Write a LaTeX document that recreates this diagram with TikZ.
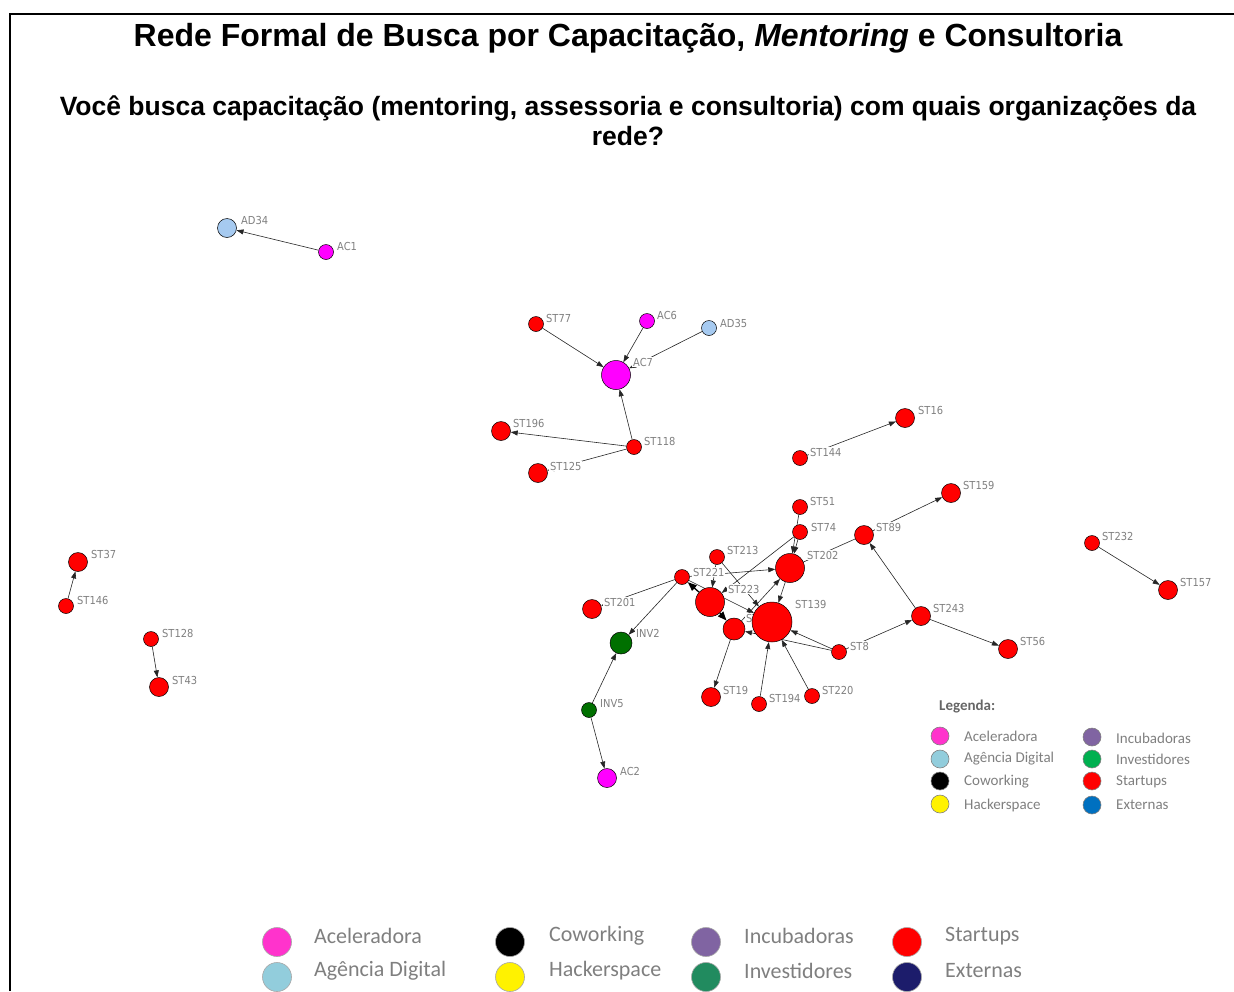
\documentclass[tikz,border=0pt]{standalone}
\usepackage{fontspec}
\setmainfont{Liberation Sans}
\newfontfamily\lblfont{DejaVu Sans Condensed}
\newfontfamily\legfont{Carlito}
\usetikzlibrary{arrows.meta}
\pgfdeclarelayer{edges}
\pgfdeclarelayer{labels}
\pgfsetlayers{edges,labels,main}
\definecolor{stred}{RGB}{255,0,0}
\definecolor{acmag}{RGB}{255,0,255}
\definecolor{adblue}{RGB}{166,202,240}
\definecolor{invgreen}{RGB}{0,112,0}
\definecolor{lblgray}{RGB}{128,128,128}
\definecolor{leggray}{RGB}{127,127,127}
\definecolor{legpink}{RGB}{255,51,204}
\definecolor{leglblue}{RGB}{146,205,220}
\definecolor{legpurple}{RGB}{128,100,162}
\definecolor{leggreen}{RGB}{0,176,80}
\definecolor{legblue}{RGB}{0,112,192}
\definecolor{legdgreen}{RGB}{33,139,95}
\definecolor{legnavy}{RGB}{28,28,107}
\tikzset{
  net/.style={circle, draw=black, line width=0.5pt, inner sep=0pt},
  s7/.style={net, minimum size=15pt},
  s9/.style={net, minimum size=19pt},
  s11/.style={net, minimum size=22pt},
  s14/.style={net, minimum size=29pt},
  s20/.style={net, minimum size=40pt},
  st/.style={fill=stred},
  ac/.style={fill=acmag},
  ad/.style={fill=adblue},
  inv/.style={fill=invgreen},
  lbl/.style={anchor=west, inner sep=1pt, fill=white, text=lblgray, font=\lblfont\fontsize{11}{12}\selectfont},
  ed/.style={draw=black!85, line width=0.6pt, -{Triangle[length=7pt,width=5pt]}},
  edthick/.style={draw=black, line width=1.3pt, -{Triangle[length=9pt,width=7pt]}},
  pl/.style={draw=black!85, line width=0.6pt},
  legdot/.style={circle, draw=gray, line width=0.6pt, inner sep=0pt, minimum size=18pt},
  legtxt/.style={anchor=west, inner sep=0pt, text=leggray, font=\legfont\fontsize{15}{17}\selectfont},
  bigdot/.style={circle, draw=gray!70, line width=0.6pt, inner sep=0pt, minimum size=29pt},
  bigtxt/.style={anchor=west, inner sep=0pt, text=leggray, font=\legfont\fontsize{22}{25}\selectfont},
}
\begin{document}
\begin{tikzpicture}[x=1pt,y=-1pt]
\useasboundingbox (0,0) rectangle (1234,991);

% frame
\draw[line width=2pt] (10,991) -- (10,14) -- (1234,14);

% headings
\node[anchor=base, inner sep=0pt, font=\bfseries\fontsize{32}{38}\selectfont] (title) at (628,46)
  {Rede Formal de Busca por Capacitação, \textit{Mentoring} e Consultoria};
\node[anchor=base, inner sep=0pt, font=\bfseries\fontsize{26.5}{30}\selectfont] (sub1) at (628,115)
  {Você busca capacitação (mentoring, assessoria e consultoria) com quais organizações da};
\node[anchor=base, inner sep=0pt, font=\bfseries\fontsize{26.5}{30}\selectfont] (sub2) at (628,145) {rede?};

% network nodes
\node[s9,ad]  (AD34)  at (227,228) {};
\node[s7,ac]  (AC1)   at (326,252) {};
\node[s7,st]  (ST77)  at (536,324) {};
\node[s7,ac]  (AC6)   at (647,321) {};
\node[s7,ad]  (AD35)  at (709,328) {};
\node[s14,ac] (AC7)   at (616,375) {};
\node[s9,st]  (ST196) at (501,431) {};
\node[s7,st]  (ST118) at (634,447) {};
\node[s9,st]  (ST125) at (538,473) {};
\node[s9,st]  (ST16)  at (905,418) {};
\node[s7,st]  (ST144) at (800,458) {};
\node[s9,st]  (ST159) at (951,493) {};
\node[s7,st]  (ST51)  at (800,507) {};
\node[s7,st]  (ST74)  at (800,532) {};
\node[s9,st]  (ST89)  at (864,535) {};
\node[s7,st]  (ST232) at (1092,543) {};
\node[s9,st]  (ST157) at (1168,590) {};
\node[s7,st]  (ST213) at (717,557) {};
\node[s14,st] (ST202) at (790,568) {};
\node[s7,st]  (ST221) at (682,577) {};
\node[s14,st] (ST223) at (710,602) {};
\node[s11,st] (STX)   at (734,629) {};
\node[s9,st]  (ST201) at (592,609) {};
\node[s20,st] (ST139) at (772,622) {};
\node[s9,st]  (ST243) at (921,616) {};
\node[s11,inv] (INV2) at (621,643) {};
\node[s7,st]  (ST8)   at (839,652) {};
\node[s9,st]  (ST56)  at (1008,649) {};
\node[s9,st]  (ST19)  at (711,697) {};
\node[s7,st]  (ST194) at (759,704) {};
\node[s7,st]  (ST220) at (812,696) {};
\node[s7,inv] (INV5)  at (589,710) {};
\node[s9,ac]  (AC2)   at (607,778) {};
\node[s9,st]  (ST37)  at (78,562) {};
\node[s7,st]  (ST146) at (66,606) {};
\node[s7,st]  (ST128) at (151,639) {};
\node[s9,st]  (ST43)  at (159,687) {};

% node labels
\begin{pgfonlayer}{labels}
\node[lbl] (lAD34)  at (240,220) {AD34};
\node[lbl] (lAC1)   at (336,246) {AC1};
\node[lbl] (lST77)  at (545,318) {ST77};
\node[lbl] (lAC6)   at (656,315) {AC6};
\node[lbl] (lAD35)  at (719,323) {AD35};
\node[lbl] (lAC7)   at (632,362) {AC7};
\node[lbl] (lST196) at (512,423) {ST196};
\node[lbl] (lST118) at (643,441) {ST118};
\node[lbl] (lST125) at (549,466) {ST125};
\node[lbl] (lST16)  at (917,410) {ST16};
\node[lbl] (lST144) at (809,452) {ST144};
\node[lbl] (lST159) at (962,485) {ST159};
\node[lbl] (lST51)  at (809,501) {ST51};
\node[lbl] (lST74)  at (810,527) {ST74};
\node[lbl] (lST89)  at (875,527) {ST89};
\node[lbl] (lST232) at (1101,536) {ST232};
\node[lbl] (lST157) at (1179,582) {ST157};
\node[lbl] (lST213) at (726,550) {ST213};
\node[lbl] (lST202) at (806,555) {ST202};
\node[lbl] (lST221) at (692,572) {ST221};
\node[lbl] (lST223) at (727,589) {ST223};
\node[lbl] (lSTX)   at (745,618) {ST};
\node[lbl] (lST201) at (603,602) {ST201};
\node[lbl] (lST139) at (794,604) {ST139};
\node[lbl] (lST243) at (932,608) {ST243};
\node[lbl] (lINV2)  at (635,633) {INV2};
\node[lbl] (lST8)   at (849,646) {ST8};
\node[lbl] (lST56)  at (1019,641) {ST56};
\node[lbl] (lST19)  at (722,690) {ST19};
\node[lbl] (lST194) at (768,698) {ST194};
\node[lbl] (lST220) at (821,690) {ST220};
\node[lbl] (lINV5)  at (599,704) {INV5};
\node[lbl] (lAC2)   at (619,771) {AC2};
\node[lbl] (lST37)  at (90,554) {ST37};
\node[lbl] (lST146) at (76,600) {ST146};
\node[lbl] (lST128) at (161,633) {ST128};
\node[lbl] (lST43)  at (171,680) {ST43};
\end{pgfonlayer}

% ties
\begin{pgfonlayer}{edges}
\draw[ed] (AC1) -- (AD34);
\draw[ed] (ST77) -- (AC7);
\draw[ed] (AC6) -- (AC7);
\draw[ed] (AD35) -- (AC7);
\draw[ed] (ST118) -- (AC7);
\draw[ed] (ST118) -- (ST196);
\draw[ed] (ST118) -- (ST125);
\draw[ed] (ST144) -- (ST16);
\draw[ed] (ST89) -- (ST159);
\draw[ed] (ST232) -- (ST157);
\draw[ed] (ST146) -- (ST37);
\draw[ed] (ST128) -- (ST43);
\draw[ed] (INV5) -- (INV2);
\draw[ed] (INV5) -- (AC2);
\draw[ed] (ST221) -- (INV2);
\draw[ed] (ST221) -- (ST201);
\draw[ed] (ST221) -- (ST202);
\draw[ed] (ST221) -- (ST139);
\draw[ed] (ST213) -- (ST223);
\draw[ed] (ST213) -- (ST139);
\draw[ed] (ST74) -- (ST223);
\draw[ed] (ST51) -- (ST202);
\draw[ed] (ST74) -- (ST202);
\draw[ed] (ST202) -- (ST139);
\draw[ed] (STX) -- (ST202);
\draw[ed] (ST8) -- (ST139);
\draw[ed] (ST8) -- (STX);
\draw[ed] (STX) -- (ST19);
\draw[ed] (ST194) -- (ST139);
\draw[ed] (ST220) -- (ST139);
\draw[ed] (ST8) -- (ST243);
\draw[ed] (ST243) -- (ST89);
\draw[ed] (ST243) -- (ST56);
\draw[edthick] (ST223) -- (ST221);
\draw[edthick] (ST223) -- (STX);
\draw[pl] (ST202) -- (ST89);
\end{pgfonlayer}

% inner legend
\node[anchor=west, inner sep=0pt, text=black!60, font=\legfont\bfseries\fontsize{15}{17}\selectfont] (legtitle) at (939,706) {Legenda:};
\node[legdot, fill=legpink]   (la1) at (940,736) {};
\node[legdot, fill=leglblue]  (la2) at (940,759) {};
\node[legdot, fill=black]     (la3) at (940,781) {};
\node[legdot, fill=yellow]    (la4) at (940,804) {};
\node[legdot, fill=legpurple] (lb1) at (1092,737) {};
\node[legdot, fill=leggreen]  (lb2) at (1092,759) {};
\node[legdot, fill=stred]     (lb3) at (1092,781) {};
\node[legdot, fill=legblue]   (lb4) at (1092,805) {};
\node[legtxt] (ta1) at (964,736) {Aceleradora};
\node[legtxt] (ta2) at (964,759) {Agência Digital};
\node[legtxt] (ta3) at (964,782) {Coworking};
\node[legtxt] (ta4) at (964,805) {Hackerspace};
\node[legtxt] (tb1) at (1116,738) {Incubadoras};
\node[legtxt] (tb2) at (1116,759) {Investidores};
\node[legtxt] (tb3) at (1116,782) {Startups};
\node[legtxt] (tb4) at (1116,805) {Externas};

% bottom legend
\node[bigdot, fill=legpink]   (ba1) at (277,942) {};
\node[bigdot, fill=leglblue]  (ba2) at (277,977) {};
\node[bigdot, fill=black]     (bb1) at (510,942) {};
\node[bigdot, fill=yellow]    (bb2) at (510,977) {};
\node[bigdot, fill=legpurple] (bc1) at (706,942) {};
\node[bigdot, fill=legdgreen] (bc2) at (706,977) {};
\node[bigdot, fill=stred]     (bd1) at (907,942) {};
\node[bigdot, fill=legnavy]   (bd2) at (907,977) {};
\node[bigtxt] (bta1) at (314,936) {Aceleradora};
\node[bigtxt] (bta2) at (314,971) {Agência Digital};
\node[bigtxt] (btb1) at (549,936) {Coworking};
\node[bigtxt] (btb2) at (549,971) {Hackerspace};
\node[bigtxt] (btc1) at (744,936) {Incubadoras};
\node[bigtxt] (btc2) at (744,971) {Investidores};
\node[bigtxt] (btd1) at (945,936) {Startups};
\node[bigtxt] (btd2) at (945,971) {Externas};
\end{tikzpicture}
\end{document}
